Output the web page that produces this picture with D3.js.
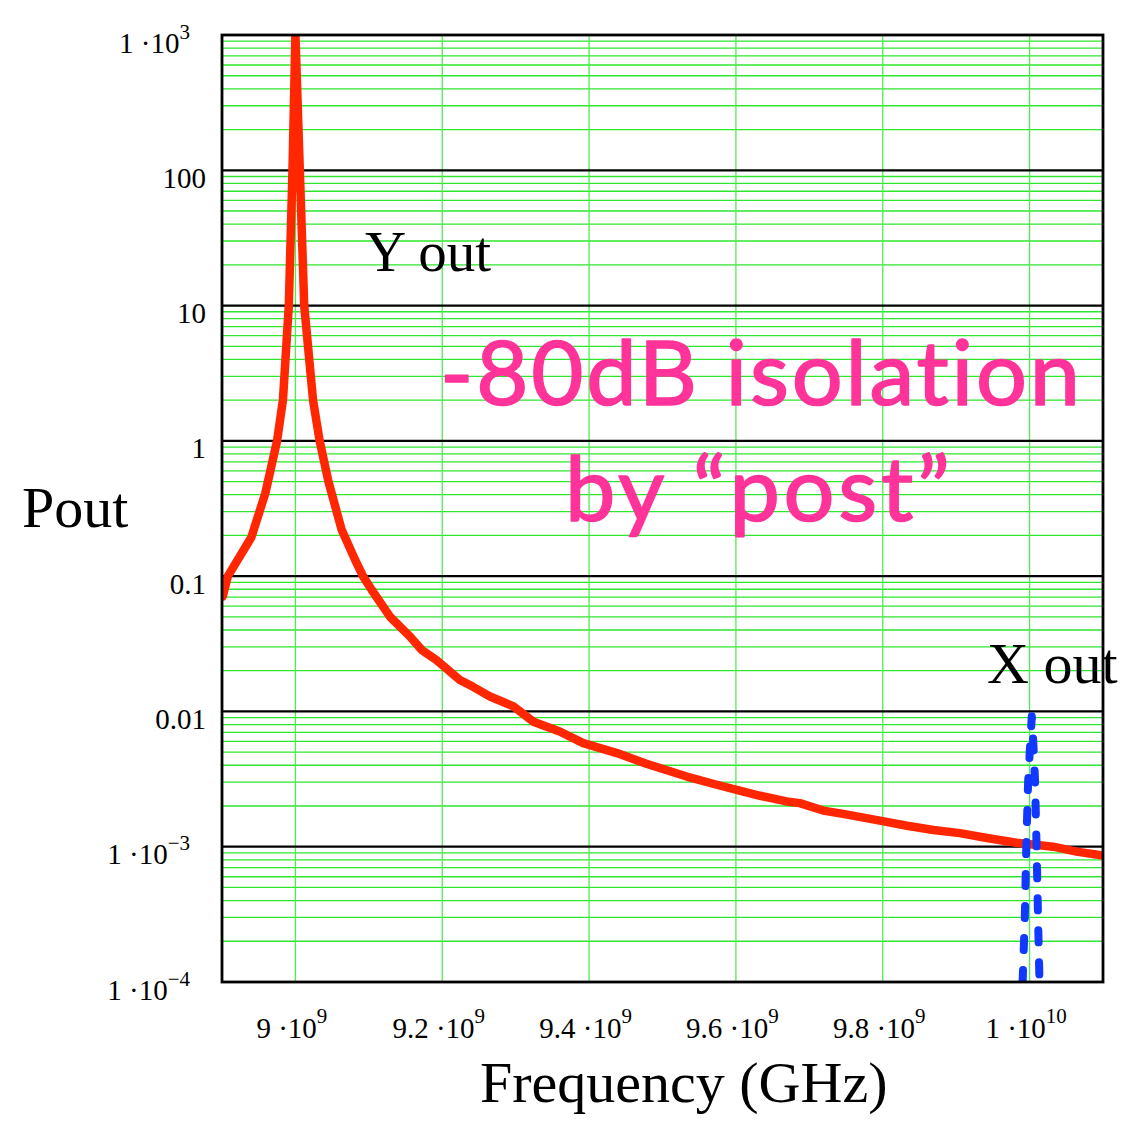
<!DOCTYPE html>
<html>
<head>
<meta charset="utf-8">
<script src="https://cdn.jsdelivr.net/npm/d3@7"></script>
<style>
  html, body { margin: 0; padding: 0; background: #ffffff; }
  svg { display: block; }
  .note { font-variant-ligatures: none; font-feature-settings: "liga" 0, "clig" 0; }
</style>
</head>
<body>
<svg id="chart" width="1148" height="1127"></svg>
<script>
// Output power of the Y mode vs frequency (GHz), log scale
const redFreq = [8.901, 8.908, 8.940, 8.959, 8.975, 8.983, 8.991, 8.996, 9.000, 9.006, 9.012, 9.024,
  9.033, 9.045, 9.063, 9.081, 9.092, 9.104, 9.129, 9.156, 9.172, 9.192, 9.224, 9.242, 9.265, 9.297,
  9.324, 9.360, 9.392, 9.438, 9.478, 9.533, 9.574, 9.605, 9.633, 9.669, 9.687, 9.719, 9.746, 9.796,
  9.833, 9.869, 9.905, 9.942, 9.982, 10.032, 10.064, 10.100];
const redPout = [0.0707, 0.1, 0.194, 0.41, 1.0, 2.0, 10, 100, 1000, 100, 10, 2.0,
  1.0, 0.5, 0.22, 0.133, 0.1, 0.079, 0.05, 0.0358, 0.0285, 0.024, 0.0171, 0.0152, 0.0129, 0.0109,
  0.0084, 0.0071, 0.00583, 0.00492, 0.0041, 0.0033, 0.00287, 0.0026, 0.00238, 0.00216, 0.0021, 0.00185, 0.00175, 0.00156,
  0.00143, 0.00133, 0.00126, 0.00116, 0.00107, 0.001, 0.00092, 0.00086];

// Output power of the X mode: narrow resonance near 10 GHz
const blueFreq = [9.9905, 9.9935, 9.9955, 9.998, 10.001, 10.003, 10.005, 10.0075, 10.0095, 10.0115, 10.0135];
const bluePout = [1e-4, 3e-4, 1e-3, 3e-3, 0.006, 0.0092, 0.006, 3e-3, 1e-3, 3e-4, 1e-4];

// Tick values and labels
const xTickValues = [9.0, 9.2, 9.4, 9.6, 9.8, 10.0];
const xTickMantissa = ["9", "9.2", "9.4", "9.6", "9.8", "1"];
const xTickExponent = ["9", "9", "9", "9", "9", "10"];

const yTickValues = [1e3, 100, 10, 1, 0.1, 0.01, 1e-3, 1e-4];
const yTickMantissa = ["1 \u00B710", "100", "10", "1", "0.1", "0.01", "1 \u00B710", "1 \u00B710"];
const yTickExponent = ["3", "", "", "", "", "", "\u22123", "\u22124"];

const plotLeft = 222, plotRight = 1103, plotTop = 35, plotBottom = 982;
const svg = d3.select("#chart");
const serif = "'Liberation Serif', 'Times New Roman', serif";

const x = d3.scaleLinear().domain([8.9, 10.1]).range([plotLeft, plotRight]);
const y = d3.scaleLog().domain([1e-4, 1e3]).range([plotBottom, plotTop]);

svg.append("defs").append("clipPath").attr("id", "plot-clip")
  .append("rect").attr("x", plotLeft).attr("y", plotTop)
  .attr("width", plotRight - plotLeft).attr("height", plotBottom - plotTop);

// Minor grid: 2..9 within each decade, plus vertical lines at the x ticks
const minorY = [];
for (let e = -4; e < 3; e++) for (let k = 2; k <= 9; k++) minorY.push(k * Math.pow(10, e));

const grid = svg.append("g");
grid.selectAll("line.hmin").data(minorY).join("line")
  .attr("x1", plotLeft).attr("x2", plotRight)
  .attr("y1", d => y(d)).attr("y2", d => y(d))
  .attr("stroke", "#2ee62e").attr("stroke-width", 1.3);
grid.selectAll("line.v").data(xTickValues).join("line")
  .attr("x1", d => x(d)).attr("x2", d => x(d))
  .attr("y1", plotTop).attr("y2", plotBottom)
  .attr("stroke", "#4eee4e").attr("stroke-width", 1.3);
// Decade lines
grid.selectAll("line.hmaj").data(yTickValues).join("line")
  .attr("x1", plotLeft).attr("x2", plotRight)
  .attr("y1", d => y(d)).attr("y2", d => y(d))
  .attr("stroke", "#000").attr("stroke-width", 2.2);

// Annotation text inside the plot
const pink = "#ff3399";
svg.append("text").attr("class", "note").attr("x", 440).attr("y", 405)
  .attr("font-family", "Lato, 'Open Sans', sans-serif").attr("font-size", 90)
  .attr("fill", pink).attr("stroke", pink).attr("stroke-width", 1.6)
  .attr("stroke-linejoin", "round")
  .attr("textLength", 640).attr("lengthAdjust", "spacing")
  .text("-80dB isolation");
svg.append("text").attr("class", "note").attr("x", 565).attr("y", 521)
  .attr("font-family", "Lato, 'Open Sans', sans-serif").attr("font-size", 90)
  .attr("fill", pink).attr("stroke", pink).attr("stroke-width", 1.6)
  .attr("stroke-linejoin", "round")
  .attr("textLength", 385).attr("lengthAdjust", "spacing")
  .text("by \u201Cpost\u201D");

svg.append("text").attr("x", 365).attr("y", 271)
  .attr("font-family", serif).attr("font-size", 57).attr("fill", "#000")
  .text("Y out");
svg.append("text").attr("x", 987).attr("y", 683)
  .attr("font-family", serif).attr("font-size", 58).attr("fill", "#000")
  .text("X out");

// Curves
const plot = svg.append("g").attr("clip-path", "url(#plot-clip)");
const line = d3.line().x(d => x(d[0])).y(d => y(d[1]));

plot.append("path")
  .datum(redFreq.map((f, i) => [f, redPout[i]]))
  .attr("d", line).attr("fill", "none")
  .attr("stroke", "#ff2600").attr("stroke-width", 8.5)
  .attr("stroke-linejoin", "round").attr("stroke-linecap", "round");

plot.append("path")
  .datum(blueFreq.map((f, i) => [f, bluePout[i]]))
  .attr("d", line).attr("fill", "none")
  .attr("stroke", "#1038ff").attr("stroke-width", 8)
  .attr("stroke-dasharray", "12,20")
  .attr("stroke-linecap", "round").attr("stroke-linejoin", "round");

// Frame
svg.append("rect").attr("x", plotLeft).attr("y", plotTop)
  .attr("width", plotRight - plotLeft).attr("height", plotBottom - plotTop)
  .attr("fill", "none").attr("stroke", "#000").attr("stroke-width", 2.8);

// Axes (labels only; the frame draws the axis lines)
const yAxis = d3.axisLeft(y).tickValues(yTickValues).tickSize(0).tickFormat("");
const gy = svg.append("g").attr("transform", `translate(${plotLeft},0)`).call(yAxis);
gy.select(".domain").remove();
gy.selectAll(".tick").each(function(d, i) {
  const hasExp = yTickExponent[i] !== "";
  const t = d3.select(this).append("text")
    .attr("x", hasExp ? -32 : -16).attr("y", 17)
    .attr("text-anchor", "end")
    .attr("font-family", serif).attr("font-size", 29).attr("fill", "#000");
  t.append("tspan").text(yTickMantissa[i]);
  if (hasExp) {
    t.append("tspan").attr("font-size", 21).attr("dy", -14).text(yTickExponent[i]);
  }
});

const xAxis = d3.axisBottom(x).tickValues(xTickValues).tickSize(0).tickFormat("");
const gx = svg.append("g").attr("transform", `translate(0,${plotBottom})`).call(xAxis);
gx.select(".domain").remove();
gx.selectAll(".tick").each(function(d, i) {
  const t = d3.select(this).append("text")
    .attr("x", -4).attr("y", 56)
    .attr("text-anchor", "middle")
    .attr("font-family", serif).attr("font-size", 29).attr("fill", "#000");
  t.append("tspan").text(xTickMantissa[i] + " \u00B710");
  t.append("tspan").attr("font-size", 21).attr("dy", -15).text(xTickExponent[i]);
});

// Axis titles
svg.append("text").attr("x", 22).attr("y", 527)
  .attr("font-family", serif).attr("font-size", 58).attr("fill", "#000")
  .text("Pout");
svg.append("text").attr("x", 480).attr("y", 1102)
  .attr("font-family", serif).attr("font-size", 58).attr("fill", "#000")
  .text("Frequency (GHz)");
</script>
</body>
</html>
